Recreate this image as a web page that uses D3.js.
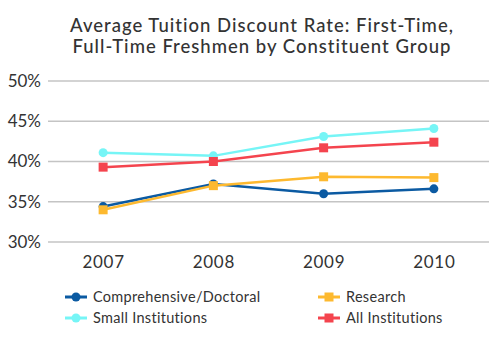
<!DOCTYPE html>
<html>
<head>
<meta charset="utf-8">
<script src="https://cdn.jsdelivr.net/npm/d3@7"></script>
<style>
body { margin: 0; background: #fff; }
text { font-family: "Lato", "Open Sans", sans-serif; fill: #333; }
</style>
</head>
<body>
<svg></svg>
<script>
var svgWidth = 501;
var svgHeight = 344;

var years = ["2007", "2008", "2009", "2010"];
var yTicks = [0.30, 0.35, 0.40, 0.45, 0.50];

var comprehensive = [0.344, 0.372, 0.360, 0.366];
var research = [0.340, 0.370, 0.381, 0.380];
var small = [0.411, 0.407, 0.431, 0.441];
var allInst = [0.393, 0.400, 0.417, 0.424];

var seriesNames = ["Comprehensive/Doctoral", "Research", "Small Institutions", "All Institutions"];
var seriesColors = ["#0b5aa2", "#fdb92f", "#76f5f6", "#f4444e"];
var seriesShapes = ["circle", "square", "circle", "square"];
var seriesValues = [comprehensive, research, small, allInst];

var svg =
    d3.select("svg")
    .attr("width", svgWidth)
    .attr("height", svgHeight);

var x = d3.scalePoint().domain(years).range([48, 489]).padding(0.5);
var y = d3.scaleLinear().domain([0.30, 0.50]).range([242, 81]);

// title
var title = svg.append("text")
    .attr("text-anchor", "middle")
    .style("font-size", "18.5px")
    .style("letter-spacing", "1px")
    .style("font-weight", "500");
title.append("tspan").attr("x", 262).attr("y", 32).text("Average Tuition Discount Rate: First-Time,");
title.append("tspan").attr("x", 262).attr("y", 53).text("Full-Time Freshmen by Constituent Group");

// gridlines
svg.append("g")
    .selectAll("line")
    .data(yTicks)
    .join("line")
    .attr("x1", 48)
    .attr("x2", 489)
    .attr("y1", function (d) { return y(d); })
    .attr("y2", function (d) { return y(d); })
    .attr("stroke", "#c4c4c4")
    .attr("stroke-width", 1.5);

// y axis labels
var yAxis = svg.append("g")
    .attr("transform", "translate(48,0)")
    .call(d3.axisLeft(y).tickValues(yTicks).tickFormat(d3.format(".0%")).tickSize(0).tickPadding(7));
yAxis.select(".domain").remove();
yAxis.selectAll("text").style("font-size", "17px").attr("fill", "#333");

// x axis labels
var xAxis = svg.append("g")
    .attr("transform", "translate(0,252)")
    .call(d3.axisBottom(x).tickSize(0).tickPadding(4));
xAxis.select(".domain").remove();
xAxis.selectAll("text").style("font-size", "17px").style("letter-spacing", "0.7px").attr("fill", "#333");

var line = d3.line()
    .x(function (d, i) { return x(years[i]); })
    .y(function (d) { return y(d); });

function drawMarker(g, shape, color, cx, cy) {
    if (shape == "circle") {
        g.append("circle")
            .attr("cx", cx)
            .attr("cy", cy)
            .attr("r", 4.5)
            .attr("fill", color);
    } else {
        g.append("rect")
            .attr("x", cx - 4.5)
            .attr("y", cy - 4.5)
            .attr("width", 9)
            .attr("height", 9)
            .attr("fill", color);
    }
}

// series, drawn back to front
var drawOrder = [2, 3, 0, 1];
drawOrder.forEach(function (s) {
    var g = svg.append("g");
    g.append("path")
        .datum(seriesValues[s])
        .attr("d", line)
        .attr("fill", "none")
        .attr("stroke", seriesColors[s])
        .attr("stroke-width", 2.5);
    seriesValues[s].forEach(function (v, i) {
        drawMarker(g, seriesShapes[s], seriesColors[s], x(years[i]), y(v));
    });
});

// legend
var legendX = [65, 318];
var legendY = [297, 318];
seriesNames.forEach(function (name, s) {
    var lx = legendX[s % 2];
    var ly = legendY[Math.floor(s / 2)];
    var g = svg.append("g");
    g.append("line")
        .attr("x1", lx)
        .attr("x2", lx + 22)
        .attr("y1", ly)
        .attr("y2", ly)
        .attr("stroke", seriesColors[s])
        .attr("stroke-width", 3);
    drawMarker(g, seriesShapes[s], seriesColors[s], lx + 11, ly);
    g.append("text")
        .attr("x", lx + 28)
        .attr("y", ly)
        .attr("dy", "0.35em")
        .style("font-size", "14.5px")
        .style("letter-spacing", "0.3px")
        .text(name);
});
</script>
</body>
</html>
